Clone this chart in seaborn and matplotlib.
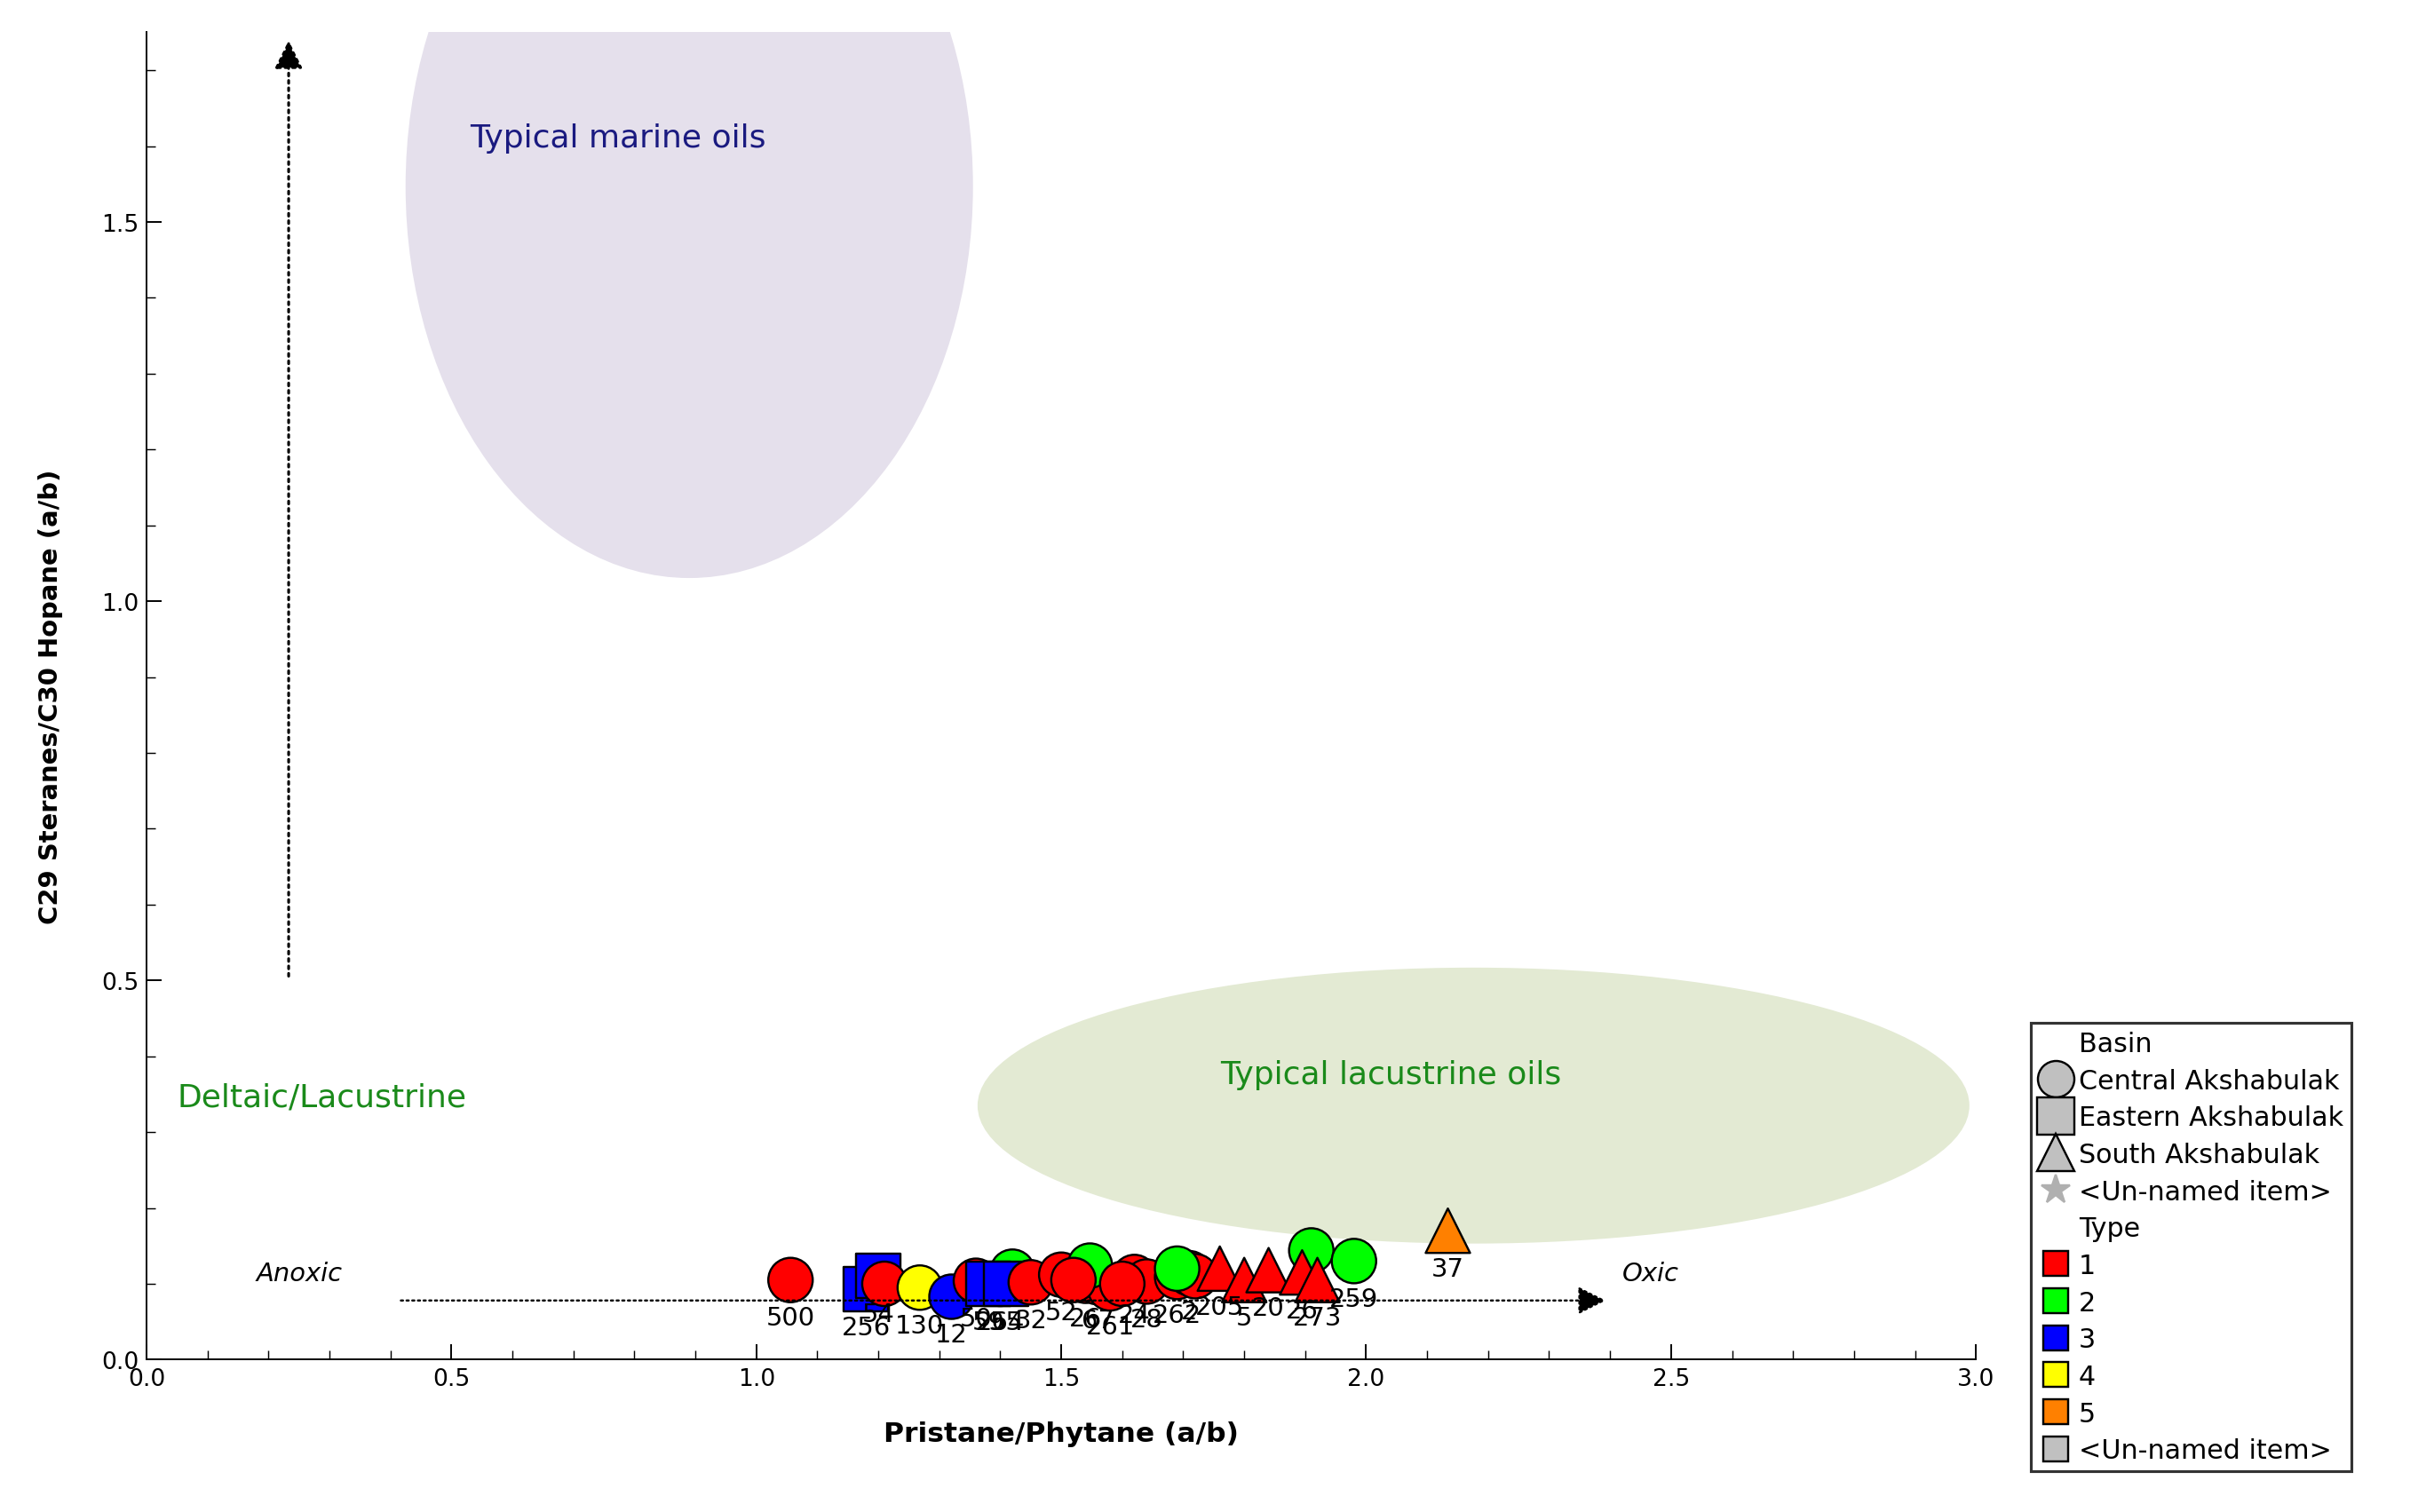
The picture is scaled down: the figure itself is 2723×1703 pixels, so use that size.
import matplotlib.pyplot as plt
import numpy as np
import pandas as pd
import seaborn as sns
from matplotlib.patches import Ellipse
from matplotlib.lines import Line2D

# sample data
pr_ph = [1.056, 1.18, 1.20, 1.21, 1.268, 1.32, 1.36, 1.40, 1.42, 1.38, 1.41, 1.45,
         1.50, 1.54, 1.56, 1.58, 1.62, 1.64, 1.69, 1.71, 1.72, 1.547, 1.69, 1.91, 1.98,
         1.76, 1.80, 1.84, 1.895, 1.92, 2.134, 1.52, 1.60]
c29_c30 = [0.105, 0.093, 0.11, 0.10, 0.095, 0.083, 0.104, 0.100, 0.116, 0.10, 0.10, 0.102,
           0.112, 0.104, 0.102, 0.094, 0.109, 0.103, 0.109, 0.114, 0.110, 0.124, 0.12, 0.144, 0.13,
           0.12, 0.105, 0.118, 0.115, 0.105, 0.17, 0.105, 0.10]
basin = ['Central', 'Eastern', 'Eastern', 'Central', 'Central', 'Central', 'Central', 'Central',
         'Central', 'Eastern', 'Eastern', 'Central'] + ['Central'] * 13 + ['South'] * 6 + ['Central'] * 2
sample_type = [1, 3, 3, 1, 4, 3, 1, 1, 2, 3, 3, 1, 1, 1, 1, 1, 1, 1, 1, 1, 1, 2, 2, 2, 2,
               1, 1, 1, 1, 1, 5, 1, 1]
labels = ['500', '256', '54', '', '130', '12', '50', '264', '', '59', '55', '32',
          '52', '26', '67', '261', '24', '28', '262', '2', '', '', '', '', '259',
          '205', '5', '20', '26', '273', '37', '', '']

df = pd.DataFrame({'x': pr_ph, 'y': c29_c30, 'Basin': basin, 'Type': sample_type})
colors = {1: '#ff0000', 2: '#00ff00', 3: '#0000ff', 4: '#ffff00', 5: '#ff8000'}
markers = {'Central': 'o', 'Eastern': 's', 'South': '^'}

fig = plt.figure(figsize=(15.68, 9.81), dpi=173.7)
ax = fig.add_axes([0.0606, 0.1007, 0.7564, 0.8773])

ax.add_patch(Ellipse((0.89, 1.547), 0.927, 1.03, color='#e5e0ec', zorder=0))
ax.add_patch(Ellipse((2.176, 0.335), 1.623, 0.361, color='#e3ead3', zorder=0))

sns.scatterplot(data=df, x='x', y='y', hue='Type', style='Basin', palette=colors,
                markers=markers, s=430, edgecolor='black', linewidth=1, legend=False,
                ax=ax, zorder=3)
for xi, yi, lab in zip(pr_ph, c29_c30, labels):
    if lab:
        ax.text(xi, yi - 0.05, lab, ha='center', va='center', fontsize=12, zorder=4)

# arrows
ax.annotate('', xy=(0.233, 1.745), xytext=(0.233, 0.5),
            arrowprops=dict(arrowstyle='-|>', ls=':', color='black', lw=1.3, mutation_scale=28))
ax.annotate('', xy=(2.4, 0.078), xytext=(0.41, 0.078),
            arrowprops=dict(arrowstyle='-|>', ls=':', color='black', lw=1, mutation_scale=28))

ax.text(0.53, 1.6, 'Typical marine oils', color='#1a1a80', fontsize=15)
ax.text(1.76, 0.365, 'Typical lacustrine oils', color='#1a8a1a', fontsize=15)
ax.text(0.05, 0.335, 'Deltaic/Lacustrine', color='#1a8a1a', fontsize=15)
ax.text(0.18, 0.105, 'Anoxic', style='italic', fontsize=12)
ax.text(2.42, 0.105, 'Oxic', style='italic', fontsize=12)

ax.set_xlim(0, 3)
ax.set_ylim(0, 1.75)
ax.set_xticks(np.arange(0, 3.01, 0.5))
ax.set_xticks(np.arange(0, 3.01, 0.1), minor=True)
ax.set_yticks(np.arange(0, 1.51, 0.5))
ax.set_yticks(np.arange(0, 1.75, 0.1), minor=True)
ax.tick_params(which='both', direction='in', labelsize=11)
ax.tick_params(which='minor', length=4)
ax.tick_params(which='major', length=7)
ax.xaxis.set_major_formatter(plt.FormatStrFormatter('%.1f'))
ax.yaxis.set_major_formatter(plt.FormatStrFormatter('%.1f'))
for s in ['top', 'right']:
    ax.spines[s].set_visible(False)
ax.set_xlabel('Pristane/Phytane (a/b)', fontsize=13, fontweight='bold', labelpad=14)
ax.set_ylabel('C29 Steranes/C30 Hopane (a/b)', fontsize=12, fontweight='bold', labelpad=18)

grey = '#c0c0c0'
blank = Line2D([], [], ls='none')
handles = [blank,
           Line2D([], [], marker='o', ls='none', mfc=grey, mec='black', ms=17),
           Line2D([], [], marker='s', ls='none', mfc=grey, mec='black', ms=17),
           Line2D([], [], marker='^', ls='none', mfc=grey, mec='black', ms=17),
           Line2D([], [], marker='*', ls='none', color='#b0b0b0', ms=14),
           blank]
names = ['Basin', 'Central Akshabulak', 'Eastern Akshabulak', 'South Akshabulak',
         '<Un-named item>', 'Type']
for t in [1, 2, 3, 4, 5]:
    handles.append(Line2D([], [], marker='s', ls='none', mfc=colors[t], mec='black', ms=12))
    names.append(str(t))
handles.append(Line2D([], [], marker='s', ls='none', mfc=grey, mec='black', ms=12))
names.append('<Un-named item>')
leg = fig.legend(handles, names, loc='lower left', bbox_to_anchor=(0.834, 0.018),
                 fontsize=12.5, frameon=True, fancybox=False, edgecolor='black',
                 handletextpad=0.2, labelspacing=0.42, borderpad=0.3, handlelength=1.3)
leg.get_frame().set_linewidth(1.3)

fig.savefig('out.png', dpi=173.7)
